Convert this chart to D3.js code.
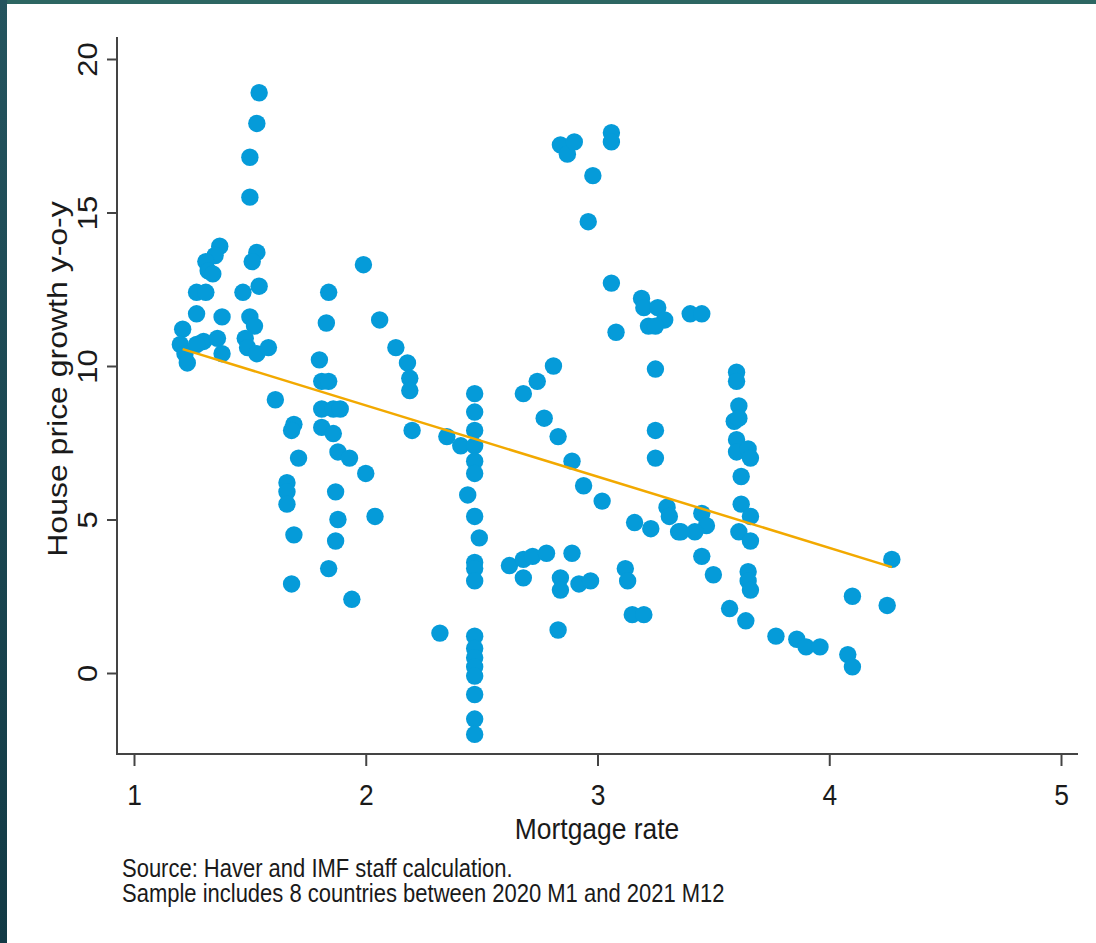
<!DOCTYPE html>
<html>
<head>
<meta charset="utf-8">
<script src="https://cdn.jsdelivr.net/npm/d3@7"></script>
<style>
  body { margin: 0; background: #fff; }
  svg { display: block; font-family: "Liberation Sans", Arial, sans-serif; }
</style>
</head>
<body>
<svg id="chart" width="1096" height="943"></svg>
<script>
// mortgage rate (x) and y-o-y house price growth (y)
const rateX = [
  1.54, 1.53, 1.50, 1.50,
  1.37, 1.35, 1.31, 1.32, 1.34, 1.53, 1.51, 1.54, 1.47, 1.27, 1.31, 1.27, 1.38, 1.50, 1.52,
  1.21, 1.20, 1.22, 1.23, 1.30, 1.36, 1.38, 1.48, 1.49, 1.53, 1.58, 1.27,
  1.61, 1.99, 1.84, 1.83, 2.06, 2.13, 2.18, 2.19, 2.19, 2.20,
  1.80, 1.81, 1.84, 1.81, 1.86, 1.89, 1.81, 1.86, 1.88, 1.93,
  1.69, 1.68, 1.71, 2.00, 1.66, 1.66, 1.66, 1.87, 1.88, 2.04, 1.69, 1.87, 1.84, 1.68, 1.94,
  2.35, 2.41, 2.47, 2.47, 2.47, 2.47, 2.47, 2.47, 2.44, 2.47, 2.49, 2.47, 2.47, 2.47,
  2.32, 2.47, 2.47, 2.47, 2.47, 2.47, 2.47, 2.47, 2.47,
  2.84, 2.87, 2.90, 3.06, 3.06, 2.98, 2.96, 3.06, 3.19, 3.20, 3.26, 3.29, 3.22, 3.25, 3.08,
  3.40, 3.45, 3.25, 3.25, 3.25,
  2.81, 2.74, 2.68, 2.77, 2.83, 2.89, 2.94, 3.02, 3.16, 3.23, 3.30, 3.31, 3.35,
  2.62, 2.68, 2.72, 2.68, 2.78, 2.89, 2.84, 2.84, 2.92, 2.97, 3.12, 3.13, 3.15, 3.20, 2.83,
  3.60, 3.60, 3.61, 3.59, 3.61, 3.60, 3.60, 3.65, 3.66, 3.62, 3.62, 3.66, 3.61, 3.66, 3.65, 3.65, 3.66,
  3.45, 3.47, 3.42, 3.36, 3.45, 3.50, 3.57, 3.64, 3.77, 3.86, 3.90, 3.96, 4.08, 4.10, 4.10, 4.25, 4.27
]
const growthY = [
  18.9, 17.9, 16.8, 15.5,
  13.9, 13.6, 13.4, 13.1, 13.0, 13.7, 13.4, 12.6, 12.4, 12.4, 12.4, 11.7, 11.6, 11.6, 11.3,
  11.2, 10.7, 10.4, 10.1, 10.8, 10.9, 10.4, 10.9, 10.6, 10.4, 10.6, 10.7,
  8.9, 13.3, 12.4, 11.4, 11.5, 10.6, 10.1, 9.6, 9.2, 7.9,
  10.2, 9.5, 9.5, 8.6, 8.6, 8.6, 8.0, 7.8, 7.2, 7.0,
  8.1, 7.9, 7.0, 6.5, 6.2, 5.9, 5.5, 5.9, 5.0, 5.1, 4.5, 4.3, 3.4, 2.9, 2.4,
  7.7, 7.4, 9.1, 8.5, 7.9, 7.4, 6.9, 6.5, 5.8, 5.1, 4.4, 3.6, 3.4, 3.0,
  1.3, 1.2, 0.8, 0.5, 0.2, -0.1, -0.7, -1.5, -2.0,
  17.2, 16.9, 17.3, 17.6, 17.3, 16.2, 14.7, 12.7, 12.2, 11.9, 11.9, 11.5, 11.3, 11.3, 11.1,
  11.7, 11.7, 9.9, 7.9, 7.0,
  10.0, 9.5, 9.1, 8.3, 7.7, 6.9, 6.1, 5.6, 4.9, 4.7, 5.4, 5.1, 4.6,
  3.5, 3.7, 3.8, 3.1, 3.9, 3.9, 3.1, 2.7, 2.9, 3.0, 3.4, 3.0, 1.9, 1.9, 1.4,
  9.8, 9.5, 8.7, 8.2, 8.3, 7.6, 7.2, 7.3, 7.0, 6.4, 5.5, 5.1, 4.6, 4.3, 3.3, 3.0, 2.7,
  5.2, 4.8, 4.6, 4.6, 3.8, 3.2, 2.1, 1.7, 1.2, 1.1, 0.85, 0.85, 0.6, 0.2, 2.5, 2.2, 3.7
]
// fitted line end points
const fitX = [1.21, 4.27]
const fitY = [10.55, 3.45]

const xTicks = [1, 2, 3, 4, 5]
const yTicks = [0, 5, 10, 15, 20]
const xTitle = 'Mortgage rate'
const yTitle = 'House price growth y-o-y'
const notes = [
  'Source: Haver and IMF staff calculation.',
  'Sample includes 8 countries between 2020 M1 and 2021 M12'
]

// the original picture is squeezed a bit horizontally
const squeeze = 'scale(0.88,1)'

const svg = d3.select('#chart')

// dark frame on left and top
const defs = svg.append('defs')
const grad = defs.append('linearGradient').attr('id', 'frame').attr('x1', 0).attr('x2', 0).attr('y1', 0).attr('y2', 1)
grad.append('stop').attr('offset', '0%').attr('stop-color', '#24545e')
grad.append('stop').attr('offset', '100%').attr('stop-color', '#123a45')
svg.append('rect').attr('x', 0).attr('y', 0).attr('width', 1096).attr('height', 4).attr('fill', '#2d6662')
svg.append('rect').attr('x', 0).attr('y', 0).attr('width', 7).attr('height', 943).attr('fill', 'url(#frame)')

const xScale = d3.scaleLinear().domain([1, 5]).range([134, 1061])
const yScale = d3.scaleLinear().domain([0, 20]).range([673, 59])

const axisColor = '#444'
const textColor = '#1a1a1a'

// axis lines
svg.append('line')
    .attr('x1', 117).attr('x2', 117)
    .attr('y1', 37).attr('y2', 754)
    .attr('stroke', axisColor).attr('stroke-width', 2)
svg.append('line')
    .attr('x1', 116).attr('x2', 1078)
    .attr('y1', 754).attr('y2', 754)
    .attr('stroke', axisColor).attr('stroke-width', 2)

// x axis
const gx = svg.append('g')
    .attr('transform', 'translate(0,754)')
    .call(d3.axisBottom(xScale).tickValues(xTicks).tickSize(12).tickFormat(d3.format('d')))
gx.select('.domain').remove()
gx.selectAll('line').attr('stroke', axisColor).attr('stroke-width', 2)
gx.selectAll('text')
    .attr('y', 51).attr('dy', null)
    .attr('transform', squeeze)
    .style('font-size', '30px')
    .attr('fill', textColor)

// y axis, labels rotated
const gy = svg.append('g')
    .attr('transform', 'translate(117,0)')
    .call(d3.axisLeft(yScale).tickValues(yTicks).tickSize(10).tickFormat(d3.format('d')))
gy.select('.domain').remove()
gy.selectAll('line').attr('stroke', axisColor).attr('stroke-width', 2)
gy.selectAll('text')
    .attr('x', null).attr('dy', null)
    .attr('text-anchor', 'middle')
    .attr('transform', `translate(-20,0) ${squeeze} rotate(-90)`)
    .style('font-size', '31px')
    .attr('fill', textColor)

// titles
svg.append('text')
    .attr('transform', `translate(597,839) ${squeeze}`)
    .attr('text-anchor', 'middle')
    .style('font-size', '30px')
    .attr('fill', textColor)
    .text(xTitle)
svg.append('text')
    .attr('transform', `translate(67,379) ${squeeze} rotate(-90)`)
    .attr('text-anchor', 'middle')
    .style('font-size', '32px')
    .attr('fill', textColor)
    .text(yTitle)

// points
const pts = rateX.map((x, i) => ({x: x, y: growthY[i]}))
svg.append('g')
    .selectAll('circle')
    .data(pts)
    .enter()
    .append('circle')
        .attr('cx', d => xScale(d.x))
        .attr('cy', d => yScale(d.y))
        .attr('r', 8.7)
        .style('fill', '#059bd9')

// fitted line
svg.append('line')
    .attr('x1', xScale(fitX[0])).attr('x2', xScale(fitX[1]))
    .attr('y1', yScale(fitY[0])).attr('y2', yScale(fitY[1]))
    .attr('stroke', '#f2a900')
    .attr('stroke-width', 2.5)

// source notes
svg.append('g')
    .selectAll('text')
    .data(notes)
    .enter()
    .append('text')
        .attr('transform', (d, i) => `translate(122,${877 + i * 25}) ${squeeze}`)
        .style('font-size', '25px')
        .attr('fill', textColor)
        .text(d => d)
</script>
</body>
</html>
